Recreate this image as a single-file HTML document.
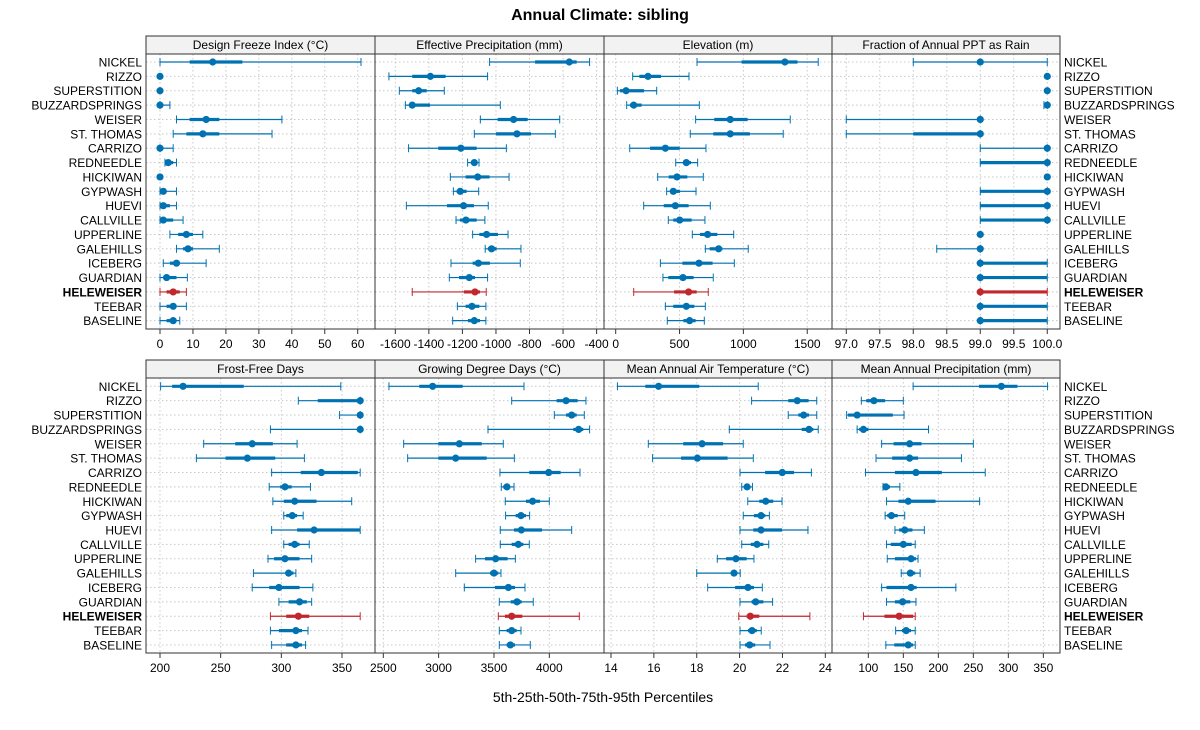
<!DOCTYPE html>
<html><head><meta charset="utf-8"><style>
body{margin:0;background:#fff}
svg text{font-family:"Liberation Sans",sans-serif}
</style></head><body>
<svg id="chart" width="1200" height="725" viewBox="0 0 1200 725" xmlns="http://www.w3.org/2000/svg">
<text x="600" y="20" text-anchor="middle" font-size="16" font-weight="bold">Annual Climate: sibling</text>
<text x="603" y="702" text-anchor="middle" font-size="14">5th-25th-50th-75th-95th Percentiles</text>
</svg>
<script>
const sites = ["NICKEL","RIZZO","SUPERSTITION","BUZZARDSPRINGS","WEISER","ST. THOMAS","CARRIZO","REDNEEDLE","HICKIWAN","GYPWASH","HUEVI","CALLVILLE","UPPERLINE","GALEHILLS","ICEBERG","GUARDIAN","HELEWEISER","TEEBAR","BASELINE"];
const highlight = "HELEWEISER";
const panelTitles = ["Design Freeze Index (\u00b0C)","Effective Precipitation (mm)","Elevation (m)","Fraction of Annual PPT as Rain","Frost-Free Days","Growing Degree Days (\u00b0C)","Mean Annual Air Temperature (\u00b0C)","Mean Annual Precipitation (mm)"];
const dfi = [[0,9,16,25,61],[0,0,0,0,0],[0,0,0,0,0],[0,0,0,0.5,3],[5,9,14,18,37],[4,8,13,18,34],[0,0,0,0.5,4],[1.5,2,2.5,4,5],[0,0,0,0,0],[0,0.5,1,1.5,5],[0,0.5,1,3,5],[0,0.5,1,4,7],[3,5.5,8,10,13],[5,7,8.5,10,18],[1,3,5,6,14],[0,1,2,5,8.3],[0,2,4,6,8],[0,2,4,5,8],[0,2,4,5,6]];
const ep = [[-1038,-767,-563,-519,-442],[-1638,-1499,-1391,-1300,-1050],[-1576,-1499,-1461,-1413,-1308],[-1540,-1517,-1499,-1393,-974],[-1093,-990,-895,-811,-620],[-1129,-1000,-875,-791,-646],[-1521,-1344,-1209,-1115,-938],[-1169,-1149,-1129,-1111,-1101],[-1272,-1181,-1109,-1038,-922],[-1254,-1234,-1213,-1175,-1103],[-1534,-1292,-1193,-1131,-1046],[-1238,-1215,-1179,-1115,-1066],[-1139,-1099,-1056,-988,-928],[-1064,-1048,-1026,-996,-851],[-1268,-1139,-1105,-1036,-855],[-1278,-1220,-1159,-1125,-1050],[-1499,-1191,-1125,-1095,-1058],[-1230,-1181,-1143,-1099,-1060],[-1258,-1167,-1129,-1095,-1060]];
const elev = [[637,986,1325,1424,1586],[133,185,253,355,574],[13,34,81,222,321],[86,112,141,203,655],[626,772,897,1033,1367],[584,764,897,1051,1312],[110,269,389,501,707],[470,530,553,590,642],[329,415,480,561,686],[399,425,451,504,629],[219,376,467,571,741],[412,451,501,595,699],[600,660,720,796,924],[702,736,806,835,1038],[350,522,652,759,929],[370,412,527,610,764],[141,457,571,634,725],[389,451,553,616,702],[404,530,579,626,694]];
const frac = [[98,99,99,99,100],[100,100,100,100,100],[100,100,100,100,100],[99.95,100,100,100,100],[97,99,99,99,99],[97,98,99,99,99],[99,100,100,100,100],[99,99,100,100,100],[100,100,100,100,100],[99,99,100,100,100],[99,99,100,100,100],[99,99,100,100,100],[99,99,99,99,99],[98.35,99,99,99,99],[99,99,99,100,100],[99,99,99,100,100],[99,99,99,100,100],[99,99,99,100,100],[99,99,99,100,100]];
const ffd = [[200.5,210,219,269,349],[314,330,365,365,365],[348,365,365,365,365],[291,365,365,365,365],[236,262,276,293,313],[230,254,272,295,319],[292,316,333,363,365],[290,299,303,308.5,324],[293,302,311,329,358],[302,304,309,313,318],[292,313,327,365,365],[302,306,311,315,323],[289,294,303,315,325],[277,304,306,310,312],[276,290,298,315,326],[298,306,315,321,325],[291,304,314,323,365],[291,298,312,317,322],[292,304,312,317,320]];
const gdd = [[2551,2825,2946,3217,3771],[3660,4066,4151,4256,4331],[4045,4151,4202,4247,4316],[3446,4217,4265,4307,4364],[2684,2997,3187,3389,3584],[2720,2997,3154,3434,3684],[3554,3819,3994,4102,4277],[3566,3584,3617,3645,3681],[3602,3789,3849,3916,4000],[3605,3696,3744,3789,3822],[3557,3681,3747,3934,4202],[3557,3660,3720,3765,3819],[3334,3419,3515,3623,3693],[3154,3464,3500,3539,3563],[3232,3509,3630,3690,3780],[3548,3651,3708,3750,3855],[3539,3599,3660,3756,4271],[3548,3614,3660,3705,3744],[3548,3614,3648,3690,3828]];
const maat = [[14.3,15.6,16.22,18.12,20.87],[20.56,22.27,22.69,23.22,23.6],[22.27,22.74,22.99,23.24,23.6],[19.52,22.9,23.24,23.44,23.67],[15.74,17.37,18.25,19.23,20.17],[15.94,17.27,18.03,19.44,20.64],[20.02,21.19,21.99,22.54,23.35],[20.1,20.2,20.35,20.49,20.6],[20.38,20.92,21.22,21.57,21.98],[20.17,20.67,21,21.2,21.39],[20.02,20.64,21,21.98,23.19],[20.1,20.52,20.81,21.11,21.36],[18.96,19.37,19.83,20.33,20.67],[18,19.6,19.74,19.89,20.03],[18.51,19.79,20.39,20.67,21.06],[20.02,20.56,20.75,21.11,21.54],[19.96,20.33,20.5,20.92,23.28],[20.02,20.39,20.58,20.8,21.01],[20.02,20.25,20.47,20.73,21.42]];
const map = [[164,258,290,313,356],[90,97,108,124,150],[69,71,84,135,151],[84,87,93,100,186],[119,136,159,176,250],[111,134,159,171,233],[96,138,168,205,267],[121,123,125,131,145],[126,143,157,196,259],[124,127,133,142,152],[138,144,152,163,180],[126,132,150,162,167],[127,138,161,168,171],[147,156,160,167,174],[119,126,161,169,225],[126,138,149,160,168],[93,123,144,164,167],[139,148,154,161,167],[125,137,157,164,167]];
const ticks = [[0,10,20,30,40,50,60],[-1600,-1400,-1200,-1000,-800,-600,-400],[0,500,1000,1500],[97,97.5,98,98.5,99,99.5,100],[200,250,300,350],[2500,3000,3500,4000],[14,16,18,20,22,24],[100,150,200,250,300,350]];
const tickLabels = [["0","10","20","30","40","50","60"],["-1600","-1400","-1200","-1000","-800","-600","-400"],["0","500","1000","1500"],["97.0","97.5","98.0","98.5","99.0","99.5","100.0"],["200","250","300","350"],["2500","3000","3500","4000"],["14","16","18","20","22","24"],["100","150","200","250","300","350"]];
const domains = [[-4.25,65.25],[-1721,-356],[-91.6,1694],[96.787,100.19],[188.46,377.2],[2425,4494],[13.673,24.312],[48.1,373.8]];
const panelNames = ["design-freeze-index","effective-precipitation","elevation","fraction-rain","frost-free-days","growing-degree-days","mean-annual-air-temp","mean-annual-precip"];
const allData = [dfi,ep,elev,frac,ffd,gdd,maat,map];

const NS="http://www.w3.org/2000/svg";
const svg=document.getElementById('chart');
function mk(tag,attrs,parent){const e=document.createElementNS(NS,tag);for(const k in attrs)e.setAttribute(k,attrs[k]);(parent||svg).appendChild(e);return e;}
const colX=[146,375,604,832,1060];
const rows=[{stripTop:36,plotTop:54,plotBot:329,y0:62},{stripTop:360,plotTop:378,plotBot:653,y0:386.3}];
const step=14.37;
const BLUE="#0072B2",RED="#C0282D";

for(let p=0;p<8;p++){
  const r=rows[Math.floor(p/4)], c=p%4;
  const x0=colX[c], x1=colX[c+1];
  const dom=domains[p];
  const sx=v=>x0+(v-dom[0])/(dom[1]-dom[0])*(x1-x0);
  const yOf=i=>r.y0+i*step;
  const g=mk('g',{});
  
  
  // strip
  const st=mk('rect',{x:x0,y:r.stripTop,width:x1-x0,height:r.plotTop-r.stripTop,fill:'#f2f2f2',stroke:'#333','stroke-width':1},g);
  
  
  const stt=mk('text',{x:(x0+x1)/2,y:r.stripTop+13,'text-anchor':'middle','font-size':12},g);
  stt.textContent=panelTitles[p];
  
  
  // grid
  ticks[p].forEach(t=>{mk('line',{x1:sx(t),x2:sx(t),y1:r.plotTop,y2:r.plotBot,stroke:'#c8c8c8','stroke-dasharray':'1.5,2.5','stroke-width':1},g);});
  sites.forEach((s,i)=>{mk('line',{x1:x0,x2:x1,y1:yOf(i),y2:yOf(i),stroke:'#c8c8c8','stroke-dasharray':'1.5,2.5','stroke-width':1},g);});
  // frame
  mk('rect',{x:x0,y:r.plotTop,width:x1-x0,height:r.plotBot-r.plotTop,fill:'none',stroke:'#333','stroke-width':1},g);
  // ticks
  ticks[p].forEach((t,k)=>{
    mk('line',{x1:sx(t),x2:sx(t),y1:r.plotBot,y2:r.plotBot+5,stroke:'#333'},g);
    const tl=mk('text',{x:sx(t),y:r.plotBot+19,'text-anchor':'middle','font-size':12},g);
    tl.textContent=tickLabels[p][k];
    
    
  });
  // marks
  allData[p].forEach((d,i)=>{
    const y=yOf(i), col=sites[i]===highlight?RED:BLUE;
    const m=mk('g',{},g);
    
    
    mk('line',{x1:sx(d[0]),x2:sx(d[4]),y1:y,y2:y,stroke:col,'stroke-width':1.2},m);
    if(d[4]>d[0]){
      mk('line',{x1:sx(d[0]),x2:sx(d[0]),y1:y-4,y2:y+4,stroke:col,'stroke-width':1},m);
      mk('line',{x1:sx(d[4]),x2:sx(d[4]),y1:y-4,y2:y+4,stroke:col,'stroke-width':1},m);
    }
    mk('line',{x1:sx(d[1]),x2:sx(d[3]),y1:y,y2:y,stroke:col,'stroke-width':3.2},m);
    mk('circle',{cx:sx(d[2]),cy:y,r:3.6,fill:col},m);
  });
  // row labels
  if(c===0||c===3){
    sites.forEach((s,i)=>{
      const t=mk('text',{x:c===0?x0-4:x1+4,y:yOf(i)+4.5,'text-anchor':c===0?'end':'start','font-size':12,'font-weight':s===highlight?'bold':'normal'},g);
      t.textContent=s;
      
      
    });
  }
}
</script>
</body></html>
